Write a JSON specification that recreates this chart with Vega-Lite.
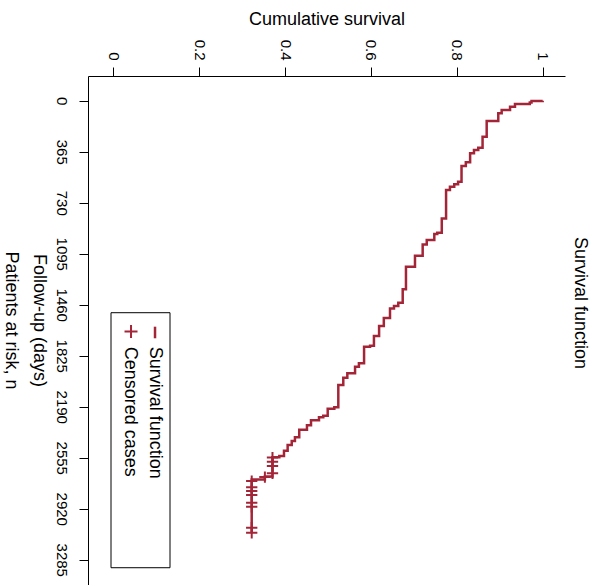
{
  "$schema": "https://vega.github.io/schema/vega-lite/v6.json",
  "width": 477,
  "height": 524,
  "autosize": {"type": "none"},
  "padding": {"left": 88, "top": 76, "right": 35, "bottom": 0},
  "background": "white",
  "title": {"text": "Survival function", "orient": "right", "angle": 90, "fontSize": 18, "font": "Liberation Sans", "fontWeight": "normal", "color": "black", "offset": 6, "dx": -35, "anchor": "middle"},
  "config": {
    "view": {"stroke": null},
    "font": "Liberation Sans",
    "axis": {"grid": false, "domainColor": "black", "domainWidth": 1, "tickColor": "black", "tickWidth": 1, "labelColor": "black", "titleColor": "black", "labelFont": "Liberation Sans", "titleFont": "Liberation Sans", "labelFontSize": 15, "titleFontSize": 18, "titleFontWeight": "normal", "labelFlush": false, "labelOverlap": false, "labelBound": false, "tickSize": 9}
  },
  "datasets": {
    "curve": [
      {"t": 0, "s": 1},
      {"t": 2, "s": 0.974},
      {"t": 12, "s": 0.970},
      {"t": 24, "s": 0.9355},
      {"t": 43, "s": 0.924},
      {"t": 67, "s": 0.9045},
      {"t": 90, "s": 0.8966},
      {"t": 145, "s": 0.8696},
      {"t": 258, "s": 0.860},
      {"t": 336, "s": 0.850},
      {"t": 353, "s": 0.840},
      {"t": 376, "s": 0.831},
      {"t": 441, "s": 0.821},
      {"t": 467, "s": 0.811},
      {"t": 580, "s": 0.803},
      {"t": 598, "s": 0.794},
      {"t": 615, "s": 0.784},
      {"t": 639, "s": 0.775},
      {"t": 842, "s": 0.765},
      {"t": 945, "s": 0.7545},
      {"t": 954, "s": 0.7476},
      {"t": 997, "s": 0.730},
      {"t": 1028, "s": 0.7205},
      {"t": 1109, "s": 0.7026},
      {"t": 1188, "s": 0.6816},
      {"t": 1350, "s": 0.674},
      {"t": 1446, "s": 0.6637},
      {"t": 1469, "s": 0.6537},
      {"t": 1486, "s": 0.6444},
      {"t": 1555, "s": 0.630},
      {"t": 1612, "s": 0.619},
      {"t": 1684, "s": 0.607},
      {"t": 1753, "s": 0.598},
      {"t": 1761, "s": 0.584},
      {"t": 1879, "s": 0.572},
      {"t": 1904, "s": 0.563},
      {"t": 1951, "s": 0.545},
      {"t": 1982, "s": 0.5356},
      {"t": 2035, "s": 0.524},
      {"t": 2194, "s": 0.5147},
      {"t": 2204, "s": 0.4993},
      {"t": 2254, "s": 0.489},
      {"t": 2266, "s": 0.479},
      {"t": 2287, "s": 0.4604},
      {"t": 2323, "s": 0.451},
      {"t": 2355, "s": 0.433},
      {"t": 2409, "s": 0.423},
      {"t": 2436, "s": 0.4155},
      {"t": 2464, "s": 0.406},
      {"t": 2505, "s": 0.3975},
      {"t": 2543, "s": 0.3866},
      {"t": 2552, "s": 0.3707},
      {"t": 2689, "s": 0.353},
      {"t": 2711, "s": 0.3223},
      {"t": 3092, "s": 0.3223}
    ],
    "censored": [
      {"t": 2554, "s": 0.3707},
      {"t": 2584, "s": 0.3707},
      {"t": 2614, "s": 0.3707},
      {"t": 2666, "s": 0.3707},
      {"t": 2693, "s": 0.353},
      {"t": 2722, "s": 0.3223},
      {"t": 2767, "s": 0.3223},
      {"t": 2793, "s": 0.3223},
      {"t": 2822, "s": 0.3223},
      {"t": 2877, "s": 0.3223},
      {"t": 2906, "s": 0.3223},
      {"t": 3056, "s": 0.3223},
      {"t": 3092, "s": 0.3223}
    ]
  },
  "layer": [
    {
      "data": {"name": "curve"},
      "mark": {"type": "line", "interpolate": "step-before", "color": "#A32638", "strokeWidth": 2.5},
      "encoding": {
        "x": {"field": "s", "type": "quantitative", "scale": {"domain": [-0.059, 1.052], "nice": false, "zero": false},
              "axis": {"orient": "top", "title": "Cumulative survival", "values": [0, 0.2, 0.4, 0.6, 0.8, 1], "format": "~g", "labelAngle": 90, "labelAlign": "right", "labelBaseline": "middle", "labelPadding": 7, "titleY": -52, "titleBaseline": "alphabetic"}},
        "y": {"field": "t", "type": "quantitative", "scale": {"domain": [-177, 3573], "nice": false, "zero": false, "reverse": true},
              "axis": {"orient": "left", "title": ["Follow-up (days)", "Patients at risk, n"], "values": [0, 365, 730, 1095, 1460, 1825, 2190, 2555, 2920, 3285], "format": "d", "labelAngle": 90, "labelAlign": "center", "labelBaseline": "middle", "labelPadding": 18, "titleAngle": 90, "titleX": -55, "titleY": 244, "titleAlign": "center", "titleBaseline": "alphabetic", "titleLineHeight": 28}},
        "order": {"field": "t", "type": "quantitative"}
      }
    },
    {
      "data": {"name": "censored"},
      "mark": {"type": "point", "shape": "M-1,0H1M0,-1V1", "size": 128, "filled": false, "strokeWidth": 2, "color": "#A32638", "opacity": 1},
      "encoding": {
        "x": {"field": "s", "type": "quantitative"},
        "y": {"field": "t", "type": "quantitative"}
      }
    },
    {
      "data": {"values": [{}]},
      "mark": {"type": "rect", "fill": "white", "stroke": "black", "strokeWidth": 1},
      "encoding": {
        "x": {"datum": -0.0054, "type": "quantitative"},
        "x2": {"datum": 0.132},
        "y": {"datum": 1517, "type": "quantitative"},
        "y2": {"datum": 3342}
      }
    },
    {
      "data": {"values": [{}]},
      "mark": {"type": "rule", "color": "#A32638", "strokeWidth": 2.5},
      "encoding": {
        "x": {"datum": 0.0971, "type": "quantitative"},
        "y": {"datum": 1617, "type": "quantitative"},
        "y2": {"datum": 1700}
      }
    },
    {
      "data": {"values": [{}]},
      "mark": {"type": "point", "shape": "M-1,0H1M0,-1V1", "size": 169, "filled": false, "strokeWidth": 2, "color": "#A32638", "opacity": 1},
      "encoding": {
        "x": {"datum": 0.0412, "type": "quantitative"},
        "y": {"datum": 1652, "type": "quantitative"}
      }
    },
    {
      "data": {"values": [{}]},
      "mark": {"type": "text", "angle": 90, "align": "left", "baseline": "alphabetic", "fontSize": 18, "font": "Liberation Sans", "color": "black"},
      "encoding": {
        "x": {"datum": 0.0855, "type": "quantitative"},
        "y": {"datum": 1761, "type": "quantitative"},
        "text": {"value": "Survival function"}
      }
    },
    {
      "data": {"values": [{}]},
      "mark": {"type": "text", "angle": 90, "align": "left", "baseline": "alphabetic", "fontSize": 18, "font": "Liberation Sans", "color": "black"},
      "encoding": {
        "x": {"datum": 0.0272, "type": "quantitative"},
        "y": {"datum": 1761, "type": "quantitative"},
        "text": {"value": "Censored cases"}
      }
    }
  ]
}
